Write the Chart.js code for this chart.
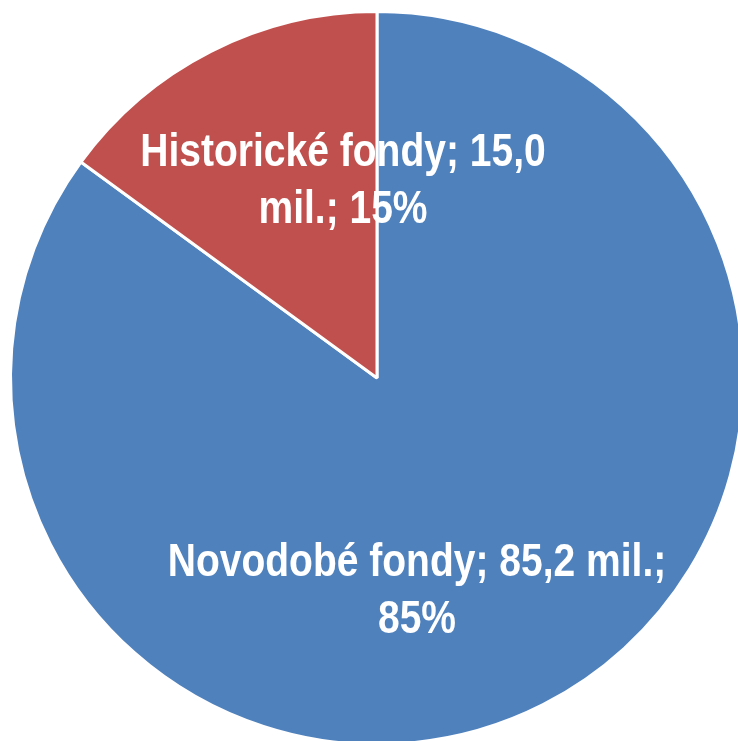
<!DOCTYPE html>
<html>
<head>
<meta charset="utf-8">
<script src="https://cdn.jsdelivr.net/npm/chart.js@4"></script>
<style>
  html, body { margin: 0; padding: 0; background: #fff; overflow: hidden; }
  #wrap { position: absolute; left: 0; top: 0; width: 760px; height: 760px; }
</style>
</head>
<body>
<div id="wrap"><canvas id="pieChart"></canvas></div>
<script>
var labels = ['Novodobé fondy', 'Historické fondy']
var values = [85.2, 15.0]
var colors = ['#4F81BD', '#C0504D']

// where the data labels sit, relative to pie centre (px), and wrap width
var labelSpots = [{x: 40, y: 226, wrap: 540}, {x: -34, y: -184, wrap: 450}]

function fmt(v) {
  return v.toFixed(1).replace('.', ',')
}

var total = values.reduce(function (a, b) { return a + b }, 0)

var labelPlugin = {
  id: 'sliceLabels',
  afterDatasetsDraw: function (chart) {
    var ctx = chart.ctx
    var meta = chart.getDatasetMeta(0)
    var squeeze = 0.83 // narrow face look
    ctx.save()
    ctx.fillStyle = '#fff'
    ctx.font = 'bold 47px "Liberation Sans", Arial, sans-serif'
    ctx.textAlign = 'center'
    ctx.textBaseline = 'alphabetic'
    meta.data.forEach(function (arc, i) {
      var pct = Math.round(values[i] / total * 100)
      var text = labels[i] + '; ' + fmt(values[i]) + ' mil.; ' + pct + '%'
      var words = text.split(' ')
      var lines = []
      var cur = ''
      words.forEach(function (w) {
        var test = cur ? cur + ' ' + w : w
        if (ctx.measureText(test).width * squeeze > labelSpots[i].wrap && cur) {
          lines.push(cur)
          cur = w
        } else {
          cur = test
        }
      })
      lines.push(cur)
      var lh = 57
      var cx = arc.x + labelSpots[i].x
      var cy = arc.y + labelSpots[i].y - (lines.length - 1) * lh / 2
      lines.forEach(function (l, j) {
        ctx.save()
        ctx.translate(cx, cy + j * lh)
        ctx.scale(squeeze, 1)
        ctx.fillText(l, 0, 0)
        ctx.restore()
      })
    })
    ctx.restore()
  }
}

var ctxP = document.getElementById('pieChart').getContext('2d')
var myPieChart = new Chart(ctxP, {
  type: 'pie',
  data: {
    labels: labels,
    datasets: [{
      data: values,
      backgroundColor: colors,
      borderColor: '#ffffff',
      borderWidth: 3
    }]
  },
  options: {
    responsive: true,
    maintainAspectRatio: false,
    animation: false,
    layout: { padding: { left: 9, top: 10, right: 15, bottom: 14 } },
    plugins: {
      legend: { display: false },
      tooltip: { enabled: false }
    }
  },
  plugins: [labelPlugin]
})
</script>
</body>
</html>
